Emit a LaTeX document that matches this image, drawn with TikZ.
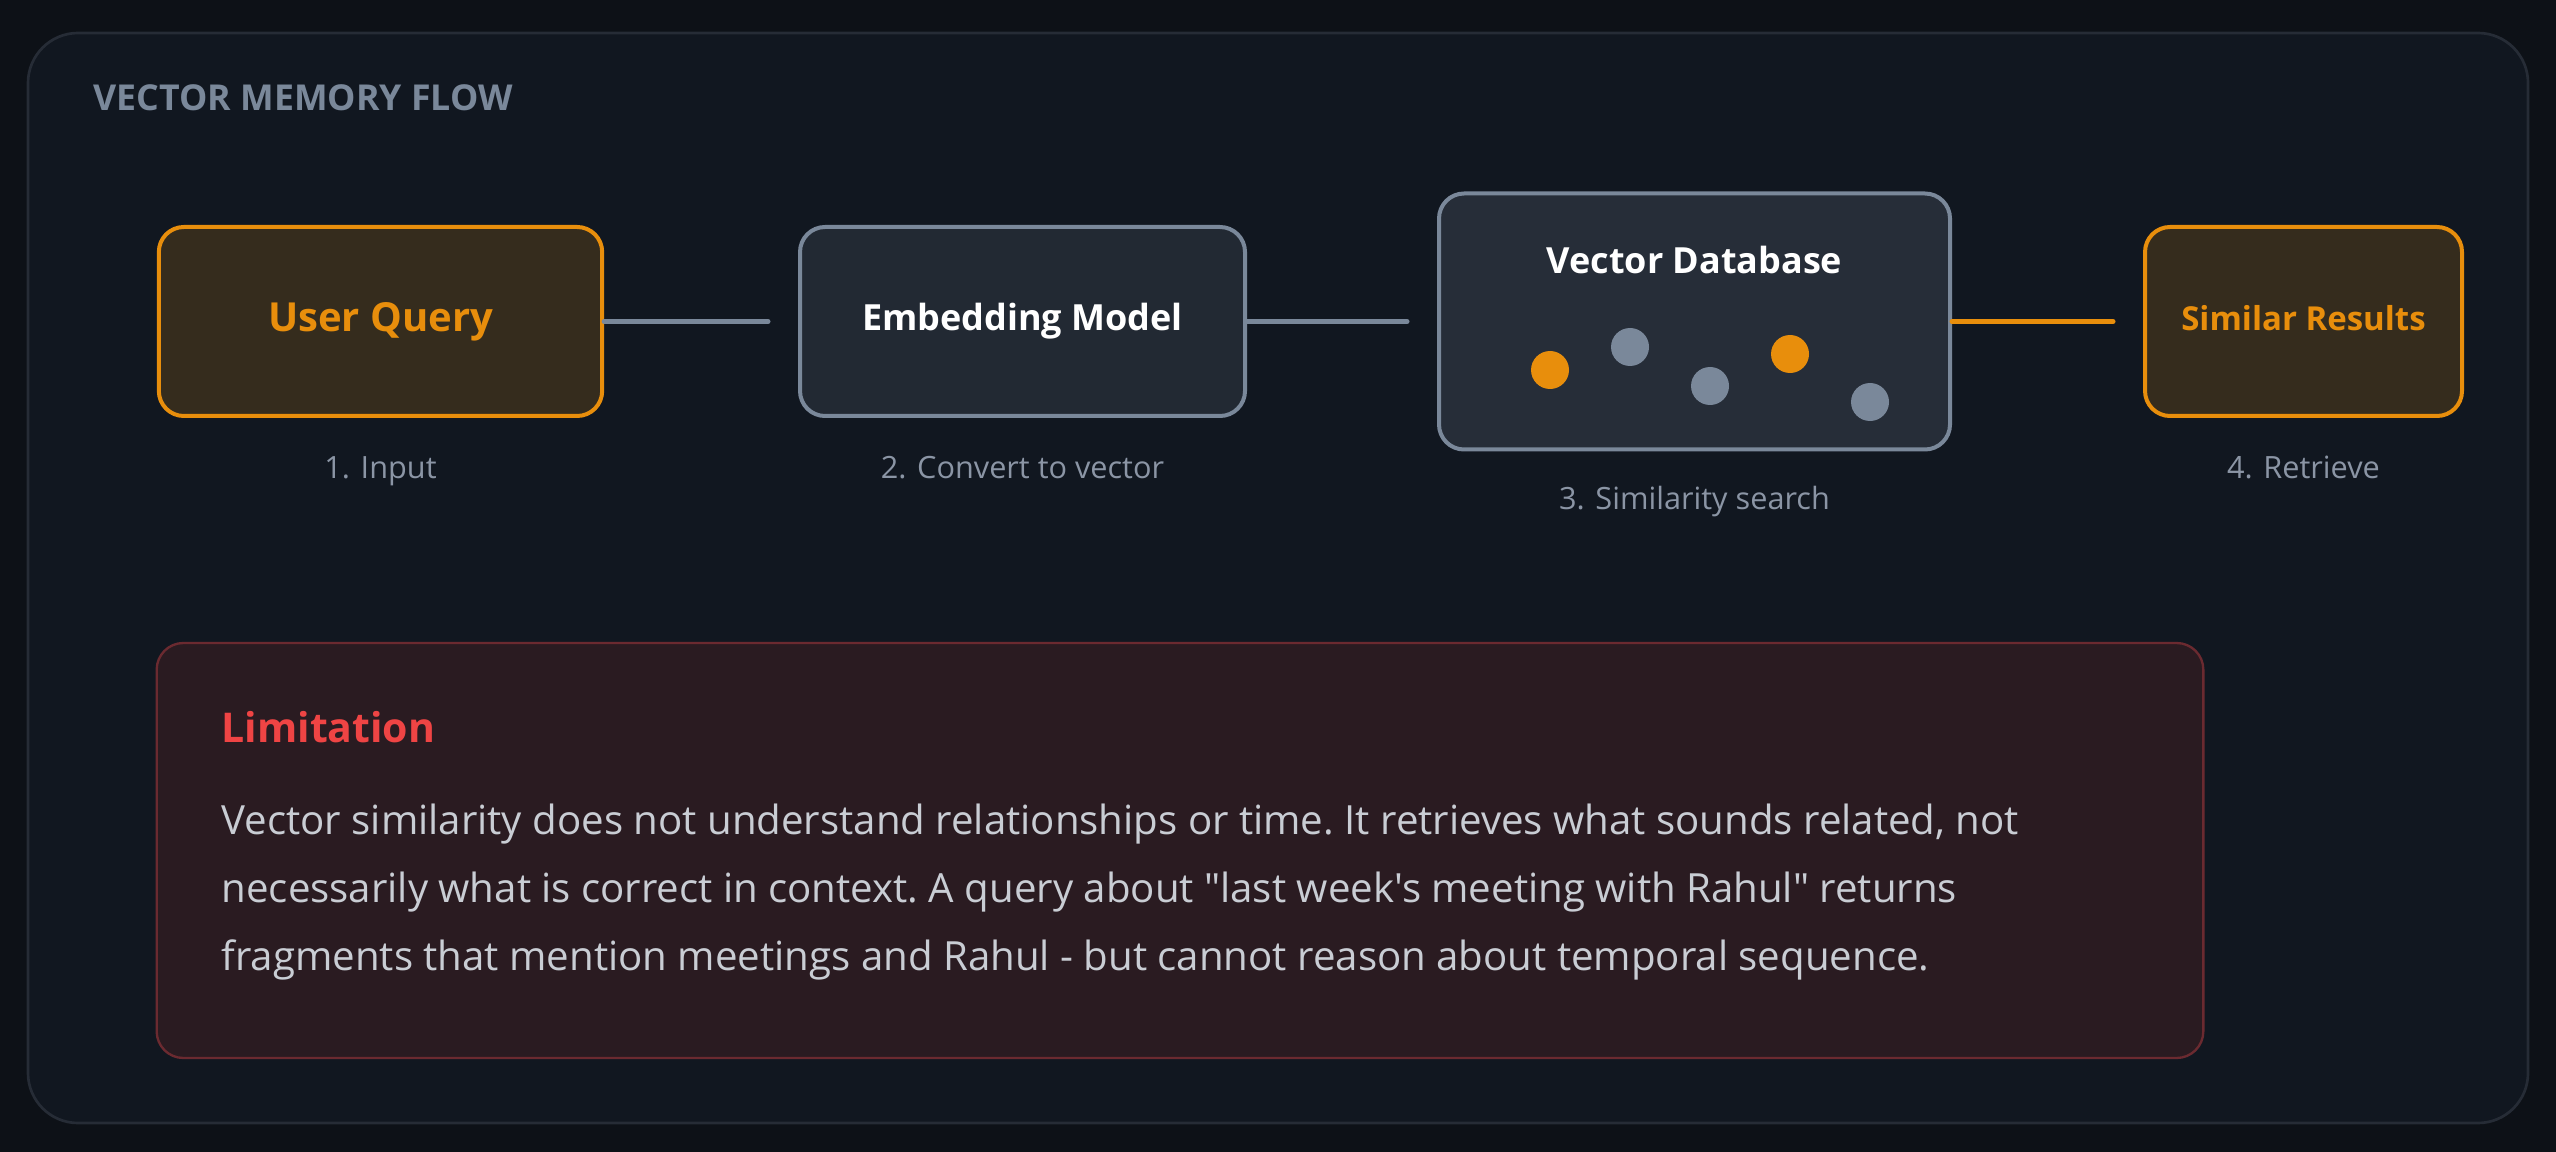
\documentclass[tikz,border=0pt]{standalone}
\usepackage{fontspec}
\setmainfont{Open Sans}[Ligatures=TeXOff]
\usetikzlibrary{positioning,calc}
\definecolor{page}{HTML}{0D1117}
\definecolor{panel}{HTML}{111720}
\definecolor{panelline}{HTML}{262C36}
\definecolor{amber}{HTML}{E88E0C}
\definecolor{amberfill}{HTML}{352C1D}
\definecolor{slate}{HTML}{7A889A}
\definecolor{boxfill}{HTML}{222933}
\definecolor{dbfill}{HTML}{262D38}
\definecolor{labelgray}{HTML}{8B95A5}
\definecolor{limfill}{HTML}{2A1B21}
\definecolor{limline}{HTML}{6B2A30}
\definecolor{limred}{HTML}{EF4444}
\definecolor{bodytext}{HTML}{C9CDD4}

\tikzset{
  flowbox/.style={draw=slate,fill=boxfill,line width=1.2pt,rounded corners=7.5pt,
                  minimum height=56.7pt,text=white,
                  font=\bfseries\fontsize{10.8}{13}\selectfont},
  hotbox/.style={flowbox,draw=amber,fill=amberfill,text=amber},
  steplabel/.style={anchor=base,text=labelgray,font=\fontsize{9.2}{11}\selectfont},
  link/.style={line width=1.5pt,draw=slate,line cap=round,shorten >=9pt},
  vecdot/.style={circle,minimum size=11.4pt,inner sep=0pt}
}

\begin{document}
\begin{tikzpicture}[x=0.3pt,y=-0.3pt]
  % page and panel
  \fill[page] (0,0) rectangle (2556,1152);
  \draw[panelline,fill=panel,line width=0.8pt,rounded corners=15pt] (28,33) rectangle (2528,1123);
  \node[anchor=west,inner sep=0pt,text=slate,font=\bfseries\fontsize{10.7}{12}\selectfont] (title) at (93,98) {VECTOR MEMORY FLOW};

  % flow
  \node[hotbox,minimum width=133pt,font=\bfseries\fontsize{12}{14}\selectfont] (query) at (380.5,321.5) {User Query};
  \node[flowbox,minimum width=133.5pt] (embed) at (1022.5,321.5) {Embedding Model};
  \node[flowbox,fill=dbfill,minimum width=153.3pt,minimum height=76.8pt] (vdb) at (1694.5,321.5) {};
  \node[text=white,font=\bfseries\fontsize{10.8}{13}\selectfont] (vdbname) at (1694.5,260) {Vector Database};
  \foreach \dx/\dy/\dc [count=\i] in {1550/370/amber,1630/347/slate,1710/386/slate,1790/354/amber,1870/402/slate}
    \node[vecdot,fill=\dc] (dot\i) at (\dx,\dy) {};
  \node[hotbox,minimum width=95.1pt,text depth=0.22em,font=\bfseries\fontsize{9.9}{12}\selectfont] (results) at (2303.5,321.5) {Similar Results};

  \draw[link] (query) -- (embed);
  \draw[link] (embed) -- (vdb);
  \draw[link,draw=amber] (vdb) -- (results);

  % step labels
  \node[steplabel] (s1) at (380.5,478) {1. Input};
  \node[steplabel] (s2) at (1022.5,478) {2. Convert to vector};
  \node[steplabel] (s3) at (1694.5,509) {3. Similarity search};
  \node[steplabel] (s4) at (2303.5,478) {4. Retrieve};

  % limitation
  \node[draw=limline,fill=limfill,line width=0.7pt,rounded corners=8pt,
        minimum width=614pt,minimum height=124.5pt] (limit) at (1180,850.5) {};
  \node[anchor=west,inner sep=0pt,text=limred,font=\bfseries\fontsize{12.3}{16}\selectfont] (limhead) at (221,727) {Limitation};
  \node[anchor=north west,align=left,inner sep=0pt,text=bodytext,
        font=\frenchspacing\fontsize{12.06}{20.4}\selectfont] (limtext) at (221,803)
    {Vector similarity does not understand relationships or time. It retrieves what sounds related, not\\
     necessarily what is correct in context. A query about "last week's meeting with Rahul" returns\\
     fragments that mention meetings and Rahul - but cannot reason about temporal sequence.};
\end{tikzpicture}
\end{document}
